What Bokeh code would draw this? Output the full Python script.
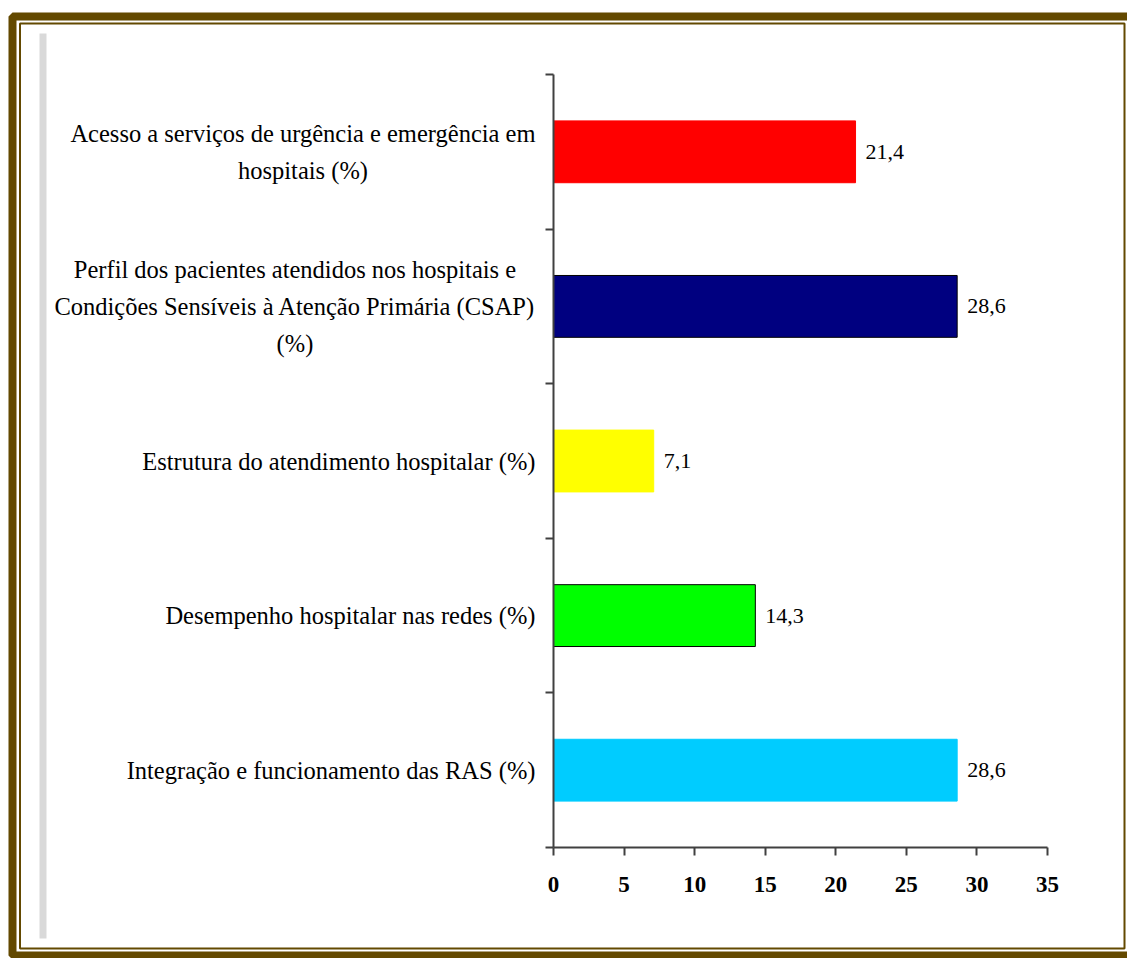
from bokeh.plotting import figure
from bokeh.models import Range1d, FixedTicker, ColumnDataSource
from bokeh.core.properties import value
from bokeh.embed import file_html
from bokeh.resources import INLINE

# ---- data ----
categories = [
    "Acesso a serviços de urgência e emergência em\nhospitais (%)",
    "Perfil dos pacientes atendidos nos hospitais e\nCondições Sensíveis à Atenção Primária (CSAP)\n(%)",
    "Estrutura do atendimento hospitalar (%)",
    "Desempenho hospitalar nas redes (%)",
    "Integração e funcionamento das RAS (%)",
]
values = [21.4, 28.6, 7.1, 14.3, 28.6]
value_labels = ["21,4", "28,6", "7,1", "14,3", "28,6"]
bar_colors = ["#FF0000", "#000080", "#FFFF00", "#00FF00", "#00CCFF"]
bar_edges = ["#FF0000", "#000000", "#FFFF00", "#000000", "#00CCFF"]
x_ticks = [0, 5, 10, 15, 20, 25, 30, 35]

n = len(categories)
ypos = [n - i - 0.5 for i in range(n)]

src = ColumnDataSource(dict(y=ypos, v=values, lab=value_labels, cat=categories,
                            fc=bar_colors, lc=bar_edges, zero=[0] * n))

SERIF = "Liberation Serif"
AXIS = "#404040"
BROWN = "#634900"
W, H = 1127, 958
FL, FR, FT, FB = 553, 1047, 74, 847   # frame edges in canvas pixels

p = figure(width=W, height=H, x_range=Range1d(0, 35), y_range=Range1d(0, n),
           output_backend="svg", toolbar_location=None,
           min_border_left=FL, min_border_right=W - FR, min_border_top=FT, min_border_bottom=H - FB)
p.outline_line_color = None
p.background_fill_color = "white"
p.border_fill_color = "white"
p.xgrid.visible = False
p.ygrid.visible = False

# pixel-space ranges for the decorative page frame
p.extra_x_ranges = {"px": Range1d(FL, FR)}
p.extra_y_ranges = {"px": Range1d(FB, FT)}

p.hbar(y="y", left="zero", right="v", height=0.4, fill_color="fc", line_color="lc",
       line_width=1, source=src)

p.text(x="v", y="y", text="lab", x_offset=10, text_align="left", text_baseline="middle",
       text_font=value(SERIF), text_font_size="22px", text_color="black", source=src)

cat_r = p.text(x="zero", y="y", text="cat", x_offset=-18, anchor="center_right",
               text_align="center", text_baseline="middle", text_line_height=1.38,
               text_font=value(SERIF), text_font_size="24.5px", text_color="black", source=src)
cat_r.level = "overlay"

# x axis
xa = p.xaxis[0]
xa.ticker = FixedTicker(ticks=x_ticks)
xa.axis_line_color = AXIS
xa.axis_line_width = 2
xa.major_tick_line_color = AXIS
xa.major_tick_line_width = 2
xa.major_tick_out = 8
xa.major_tick_in = 0
xa.minor_tick_line_color = None
xa.major_label_text_font = SERIF
xa.major_label_text_font_style = "bold"
xa.major_label_text_font_size = "23px"
xa.major_label_text_color = "black"
xa.major_label_standoff = 21

# y axis: ticks at category boundaries
ya = p.yaxis[0]
ya.ticker = FixedTicker(ticks=[], minor_ticks=list(range(n + 1)))
ya.axis_line_color = AXIS
ya.axis_line_width = 2
ya.major_tick_line_color = None
ya.minor_tick_line_color = AXIS
ya.minor_tick_line_width = 2
ya.minor_tick_out = 8
ya.minor_tick_in = 0
ya.major_label_text_font_size = "0px"

# decorative page frame (thick outer, thin inner, grey strip)
deco = [
    p.quad(left=12, right=1131, top=16, bottom=955, fill_color=None, line_color=BROWN,
           line_width=8, x_range_name="px", y_range_name="px"),
    p.quad(left=19.5, right=1124, top=23, bottom=948, fill_color=None, line_color=BROWN,
           line_width=2, x_range_name="px", y_range_name="px"),
    p.quad(left=39, right=46, top=33, bottom=938, fill_color="#d9d9d9", line_color=None,
           x_range_name="px", y_range_name="px"),
]
for r in deco:
    r.level = "overlay"

open("out.html", "w").write(file_html(p, INLINE))
